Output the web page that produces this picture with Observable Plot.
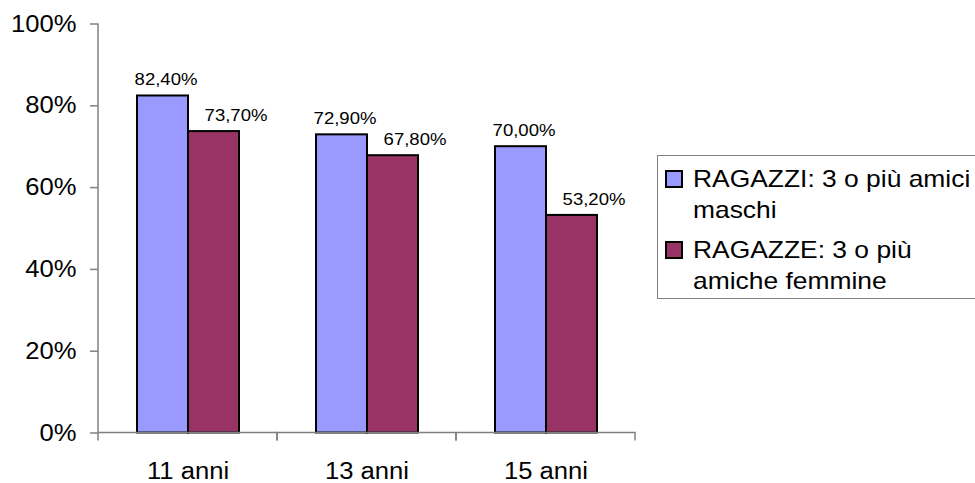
<!DOCTYPE html>
<html>
<head>
<meta charset="utf-8">
<script src="https://cdn.jsdelivr.net/npm/d3@7"></script>
<script src="https://cdn.jsdelivr.net/npm/@observablehq/plot@0.6"></script>
<style>
  html, body { margin: 0; padding: 0; background: #fff; overflow: hidden; }
  #chart { position: relative; width: 975px; height: 483px; font-family: "Liberation Sans", Arial, sans-serif; }
  .legend { position: absolute; left: 657px; top: 155px; width: 340px; border: 1px solid #808080; background: #fff;
            padding: 7px 0 2px 7px; box-sizing: border-box; color: #000; }
  .legend .item { display: flex; align-items: flex-start; }
  .legend .item + .item { margin-top: 9px; }
  .legend .sw { flex: none; width: 14px; height: 14px; border: 2px solid #000; margin: 7px 10px 0 0; }
  .legend .txt { font-size: 24px; line-height: 31px; white-space: nowrap; transform: scaleX(1.1); transform-origin: left center; }
</style>
</head>
<body>
<div id="chart"></div>
<script>
// Age groups, series and the share of each group with 3 or more same-sex friends
const ages = ["11 anni", "13 anni", "15 anni"];
const series = ["RAGAZZI", "RAGAZZE"];
const boys = [0.824, 0.729, 0.700];
const girls = [0.737, 0.678, 0.532];
const legendLines = [
  ["RAGAZZI: 3 o più amici", "maschi"],
  ["RAGAZZE: 3 o più", "amiche femmine"]
];
const colors = ["#9999FF", "#993366"];
const yTicks = [0, 0.2, 0.4, 0.6, 0.8, 1];

const rows = ages.flatMap((age, i) => [
  {age, series: series[0], value: boys[i]},
  {age, series: series[1], value: girls[i]}
]);

// Italian number formatting: decimal comma
const it = d3.formatLocale({decimal: ",", thousands: ".", grouping: [3], currency: ["€", ""]});
const pct2 = it.format(".2%");
const pct0 = it.format(".0%");

const font = '"Liberation Sans", Arial, sans-serif';
const axisGray = "#808080";
const svgNS = "http://www.w3.org/2000/svg";

// Axis lines: the category baseline with ticks at the edges of each age band
// (rendered once per band), plus the vertical value axis on the first band only
let valueAxisDrawn = false;
function axisLines(index, scales, values, dims) {
  const y0 = scales.y(0);
  const y1 = scales.y(1);
  const x0 = dims.marginLeft;
  const x1 = dims.width - dims.marginRight;
  const g = document.createElementNS(svgNS, "g");
  g.setAttribute("fill", "none");
  g.setAttribute("stroke", axisGray);
  g.setAttribute("stroke-width", 1.5);
  const base = document.createElementNS(svgNS, "path");
  base.setAttribute("d", `M${x0},${y0 + 8}V${y0}H${x1}V${y0 + 8}`);
  g.appendChild(base);
  if (!valueAxisDrawn) {
    valueAxisDrawn = true;
    const axis = document.createElementNS(svgNS, "path");
    axis.setAttribute("d", `M${x0},${y0}V${y1}`);
    g.appendChild(axis);
  }
  return g;
}

const chart = Plot.plot({
  width: 975,
  height: 483,
  marginLeft: 98,
  marginRight: 340,
  marginTop: 23.5,
  marginBottom: 50.5,
  style: {fontFamily: font, background: "#fff", color: "#000"},
  fx: {domain: ages, padding: 0},
  x: {domain: series, paddingInner: 0, paddingOuter: 0.735, axis: null},
  y: {domain: [0, 1]},
  color: {domain: series, range: colors},
  marks: [
    Plot.barY(rows, {
      fx: "age", x: "series", y: "value", fill: "series",
      stroke: "#000", strokeWidth: 2
    }),
    Plot.text(rows, {
      filter: (d) => d.series === series[0],
      fx: "age", x: "series", y: "value", text: (d) => pct2(d.value),
      dy: -16, dx: 3, fontSize: 17, fill: "#000"
    }),
    Plot.text(rows, {
      filter: (d) => d.series === series[1],
      fx: "age", x: "series", y: "value", text: (d) => pct2(d.value),
      dy: -16, dx: 22, fontSize: 17, fill: "#000"
    }),
    axisLines,
    Plot.axisY({
      ticks: yTicks, tickFormat: pct0, tickSize: 8, tickPadding: 14,
      fontSize: 23.5, stroke: axisGray, strokeWidth: 1.5, fill: "#000",
      label: null
    }),
    Plot.axisFx({
      anchor: "bottom", tickSize: 0, tickPadding: 29,
      fontSize: 23.5, fill: "#000", label: null
    })
  ]
});

const host = document.getElementById("chart");
host.appendChild(chart);

// Widen the glyphs slightly, as in the original rendering
chart.querySelectorAll("text").forEach((t) => {
  const w = t.getComputedTextLength();
  if (w > 0) {
    t.setAttribute("textLength", (w * 1.09).toFixed(2));
    t.setAttribute("lengthAdjust", "spacingAndGlyphs");
  }
});

// Legend box at the right of the plot
const legend = d3.select(host).append("div").attr("class", "legend");
legendLines.forEach((lines, i) => {
  const item = legend.append("div").attr("class", "item");
  item.append("span").attr("class", "sw").style("background", colors[i]);
  const txt = item.append("div").attr("class", "txt");
  lines.forEach((line) => txt.append("div").text(line));
});
</script>
</body>
</html>
